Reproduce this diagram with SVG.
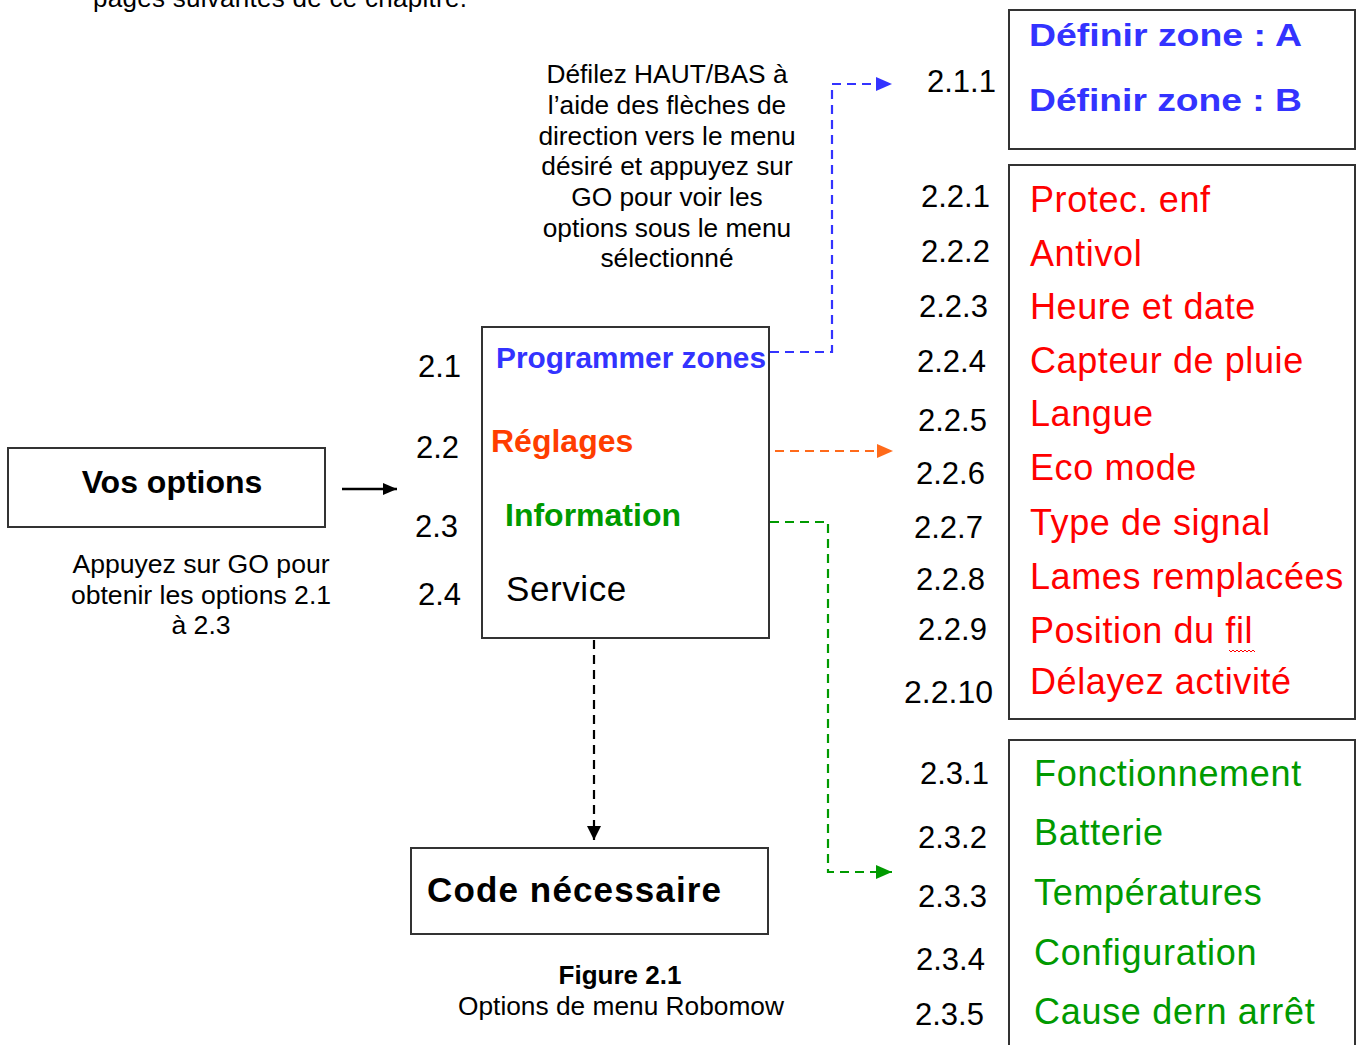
<svg xmlns="http://www.w3.org/2000/svg" width="1357" height="1045" viewBox="0 0 1357 1045">
<style>
text{font-family:"Liberation Sans",Arial,sans-serif;fill:#000}
.note{font-size:26.3px;text-anchor:middle}
.num{font-size:31px}
.box{fill:#fff;stroke:#333;stroke-width:2}
.blue{fill:#3333FF;font-weight:bold}
.red{fill:#FF0000;font-size:36px;letter-spacing:0.6px}
.green{fill:#009A00;font-size:36px;letter-spacing:0.7px}
.dash{fill:none;stroke-width:2.2;stroke-dasharray:9 6}
</style>
<defs>
<marker id="ahBlue" markerUnits="userSpaceOnUse" markerWidth="16" markerHeight="14" refX="16" refY="7" orient="auto"><path d="M0,0 L16,7 L0,14 z" fill="#3333FF"/></marker>
<marker id="ahOrange" markerUnits="userSpaceOnUse" markerWidth="16" markerHeight="14" refX="16" refY="7" orient="auto"><path d="M0,0 L16,7 L0,14 z" fill="#FF6A1A"/></marker>
<marker id="ahGreen" markerUnits="userSpaceOnUse" markerWidth="16" markerHeight="14" refX="16" refY="7" orient="auto"><path d="M0,0 L16,7 L0,14 z" fill="#009A00"/></marker>
<marker id="ahBlack" markerUnits="userSpaceOnUse" markerWidth="14" markerHeight="14" refX="14" refY="7" orient="auto"><path d="M0,0 L14,7 L0,14 z" fill="#000"/></marker>
<marker id="ahSmall" markerUnits="userSpaceOnUse" markerWidth="14" markerHeight="12" refX="14" refY="6" orient="auto"><path d="M0,0 L14,6 L0,12 z" fill="#000"/></marker>
</defs>
<rect width="1357" height="1045" fill="#fff"/>

<g id="header-text">
<text x="93" y="7" font-size="26" textLength="374">pages suivantes de ce chapitre.</text>
</g>

<g id="instruction-note">
<text class="note" x="667" y="83">Défilez HAUT/BAS à</text>
<text class="note" x="667" y="114">l’aide des flèches de</text>
<text class="note" x="667" y="145">direction vers le menu</text>
<text class="note" x="667" y="175">désiré et appuyez sur</text>
<text class="note" x="667" y="206">GO pour voir les</text>
<text class="note" x="667" y="237">options sous le menu</text>
<text class="note" x="667" y="267">sélectionné</text>
</g>

<g id="vos-options">
<rect class="box" x="8" y="448" width="317" height="79"/>
<text x="172" y="493" font-size="32" font-weight="bold" text-anchor="middle">Vos options</text>
</g>

<g id="go-note">
<text class="note" x="201" y="573" style="font-size:26.6px">Appuyez sur GO pour</text>
<text class="note" x="201" y="604" style="font-size:26.6px">obtenir les options 2.1</text>
<text class="note" x="201" y="634" style="font-size:26.6px">à 2.3</text>
</g>

<g id="main-menu">
<rect class="box" x="482" y="327" width="287" height="311"/>
<text class="num" x="418" y="377" font-size="32">2.1</text>
<text class="num" x="416" y="458" font-size="32">2.2</text>
<text class="num" x="415" y="537" font-size="32">2.3</text>
<text class="num" x="418" y="605" font-size="32">2.4</text>
<text class="blue" x="496" y="368" font-size="29" textLength="270" lengthAdjust="spacingAndGlyphs">Programmer zones</text>
<text x="491" y="452" font-size="32" font-weight="bold" style="fill:#FF3D00">Réglages</text>
<text x="505" y="526" font-size="32" font-weight="bold" style="fill:#009A00">Information</text>
<text x="506" y="601" font-size="35" letter-spacing="0.6">Service</text>
</g>

<g id="code-necessaire">
<rect class="box" x="411" y="848" width="357" height="86"/>
<text x="427" y="902" font-size="35" font-weight="bold" textLength="294">Code nécessaire</text>
</g>

<g id="caption">
<text x="620" y="984" font-size="26" font-weight="bold" text-anchor="middle">Figure 2.1</text>
<text x="621" y="1015" font-size="26.3" text-anchor="middle">Options de menu Robomow</text>
</g>

<g id="zones-menu">
<rect class="box" x="1009" y="10" width="346" height="139"/>
<text class="num" x="927" y="92">2.1.1</text>
<text class="blue" x="1029" y="46" font-size="31" textLength="273" lengthAdjust="spacingAndGlyphs">Définir zone : A</text>
<text class="blue" x="1029" y="111" font-size="31" textLength="273" lengthAdjust="spacingAndGlyphs">Définir zone : B</text>
</g>

<g id="settings-menu">
<rect class="box" x="1009" y="165" width="346" height="554"/>
<text class="num" x="921" y="207">2.2.1</text>
<text class="num" x="921" y="262">2.2.2</text>
<text class="num" x="919" y="317">2.2.3</text>
<text class="num" x="917" y="372">2.2.4</text>
<text class="num" x="918" y="431">2.2.5</text>
<text class="num" x="916" y="484">2.2.6</text>
<text class="num" x="914" y="538">2.2.7</text>
<text class="num" x="916" y="590">2.2.8</text>
<text class="num" x="918" y="640">2.2.9</text>
<text class="num" x="904" y="703" style="font-size:32px">2.2.10</text>
<text class="red" x="1030" y="212">Protec. enf</text>
<text class="red" x="1030" y="266">Antivol</text>
<text class="red" x="1030" y="319">Heure et date</text>
<text class="red" x="1030" y="373">Capteur de pluie</text>
<text class="red" x="1030" y="426">Langue</text>
<text class="red" x="1030" y="480">Eco mode</text>
<text class="red" x="1030" y="535">Type de signal</text>
<text class="red" x="1030" y="589">Lames remplacées</text>
<text class="red" x="1030" y="643">Position du fil</text>
<text class="red" x="1030" y="694">Délayez activité</text>
<polyline points="1229,650 1231,652 1233,650 1235,652 1237,650 1239,652 1241,650 1243,652 1245,650 1247,652 1249,650 1251,652 1253,650 1255,652" fill="none" stroke="#FF0000" stroke-width="1"/>
</g>

<g id="info-menu">
<rect class="box" x="1009" y="740" width="346" height="320"/>
<text class="num" x="920" y="784">2.3.1</text>
<text class="num" x="918" y="848">2.3.2</text>
<text class="num" x="918" y="907">2.3.3</text>
<text class="num" x="916" y="970">2.3.4</text>
<text class="num" x="915" y="1025">2.3.5</text>
<text class="green" x="1034" y="786">Fonctionnement</text>
<text class="green" x="1034" y="845">Batterie</text>
<text class="green" x="1034" y="905">Températures</text>
<text class="green" x="1034" y="965">Configuration</text>
<text class="green" x="1034" y="1024">Cause dern arrêt</text>
</g>

<g id="connectors">
<path d="M342,489 H397" stroke="#000" stroke-width="2.5" fill="none" marker-end="url(#ahSmall)"/>
<path class="dash" d="M770,352 H832 V84 H892" stroke="#3333FF" marker-end="url(#ahBlue)"/>
<path class="dash" d="M775,451 H893" stroke="#FF6A1A" marker-end="url(#ahOrange)"/>
<path class="dash" d="M770,522 H828 V872 H892" stroke="#009A00" marker-end="url(#ahGreen)"/>
<path class="dash" d="M594,640 V840" stroke="#000" marker-end="url(#ahBlack)"/>
</g>
</svg>
